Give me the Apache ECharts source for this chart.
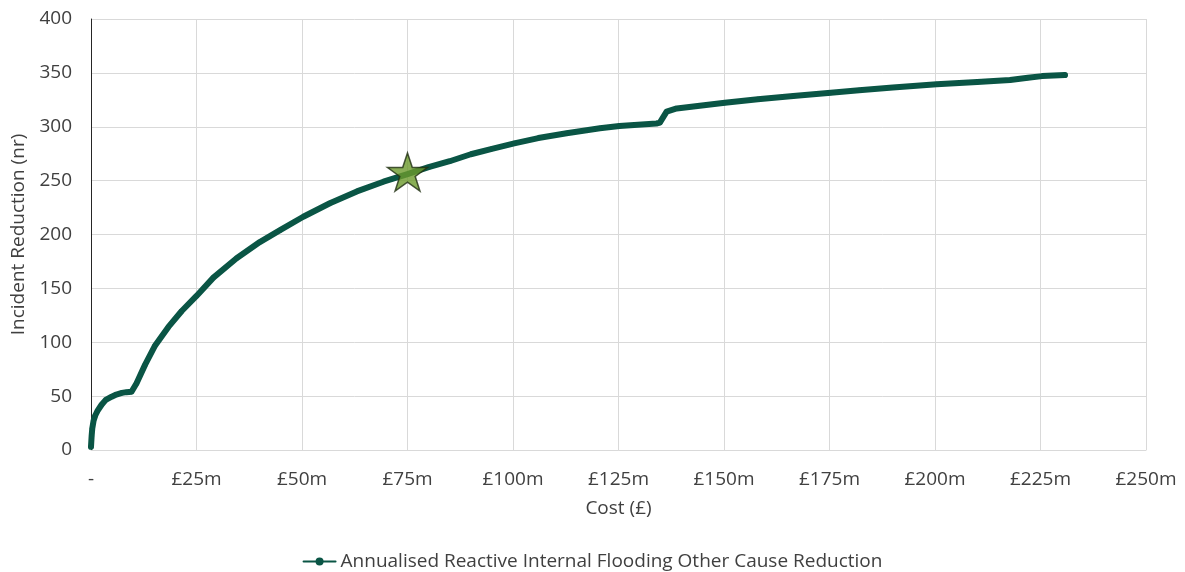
<!DOCTYPE html>
<html>
<head>
<meta charset="utf-8">
<script src="https://cdn.jsdelivr.net/npm/echarts@6/dist/echarts.min.js"></script>
<style>
  html, body { margin: 0; padding: 0; background: #fff; }
  #chart { width: 1185px; height: 572px; }
</style>
</head>
<body>
<div id="chart"></div>
<script>
// Cumulative cost (£m) and annual incident reduction (nr)
const costM = [0, 0.15, 0.3, 0.6, 1, 1.5, 2.5, 3.5, 4.9, 6, 7.3, 8.4, 9.6, 10.8, 12.8, 15.2, 18.3, 21.5,
  25, 29, 34.5, 40, 44.8, 50.3, 56.6, 63, 69.3, 75, 80, 85, 90, 95, 100.3, 106, 112.7, 120.6, 125.2,
  134, 134.8, 136.4, 138.8, 150.2, 158, 166.4, 175.3, 182, 190, 200.4, 210, 217.8, 222, 225.4, 230.8];
const reduction = [3, 13, 20, 27, 32, 36, 42, 46.5, 49.5, 51.5, 53, 53.7, 54, 62, 79, 97, 114, 129,
  143, 160, 178, 193, 204, 216.5, 229, 240, 249, 256, 262.5, 268, 274.5, 279.5, 284.6, 289.5, 294,
  298.6, 300.7, 303, 303.8, 314, 317, 322.3, 325.5, 328.5, 331.5, 333.8, 336.5, 339.4, 341.5, 343.4,
  345.5, 347, 348];

// Highlighted option
const selectedCost = [75];
const selectedReduction = [258];

const xTicks = [0, 25, 50, 75, 100, 125, 150, 175, 200, 225, 250];
const yTicks = [0, 50, 100, 150, 200, 250, 300, 350, 400];

const seriesName = 'Annualised Reactive Internal Flooding Other Cause Reduction';
const lineColor = '#0a5545';
const font = '"Open Sans", "Liberation Sans", sans-serif';
const textColor = '#404040';
const fs = 19;

const chart = echarts.init(document.getElementById('chart'));
chart.setOption({
  animation: false,
  textStyle: { fontFamily: font },
  grid: { left: 91, right: 39, top: 19, bottom: 122 },
  legend: {
    left: 'center',
    top: 547,
    data: [seriesName],
    itemWidth: 32,
    itemHeight: 10,
    itemGap: 4,
    textStyle: { fontSize: fs, color: textColor, fontFamily: font }
  },
  xAxis: {
    type: 'value',
    min: xTicks[0],
    max: xTicks[xTicks.length - 1],
    interval: 25,
    name: 'Cost (£)',
    nameLocation: 'middle',
    nameGap: 49,
    nameTextStyle: { fontSize: fs, color: textColor },
    axisLine: { show: true, lineStyle: { color: '#d9d9d9', width: 1 } },
    axisTick: { show: false },
    axisLabel: {
      fontSize: fs, color: textColor, margin: 20,
      formatter: v => v === 0 ? '-' : '£' + v + 'm'
    },
    splitLine: { show: true, lineStyle: { color: '#d9d9d9', width: 1 } }
  },
  yAxis: {
    type: 'value',
    min: yTicks[0],
    max: yTicks[yTicks.length - 1],
    interval: 50,
    name: 'Incident Reduction (nr)',
    nameLocation: 'middle',
    nameGap: 60,
    nameTextStyle: { fontSize: fs, color: textColor },
    axisLine: { show: true, lineStyle: { color: '#262626', width: 1 } },
    axisTick: { show: false },
    axisLabel: { fontSize: fs, color: textColor, margin: 19 },
    splitLine: { show: true, lineStyle: { color: '#d9d9d9', width: 1 } }
  },
  series: [
    {
      name: seriesName,
      type: 'line',
      data: costM.map((c, i) => [c, reduction[i]]),
      smooth: false,
      symbol: 'circle',
      symbolSize: 5,
      showSymbol: true,
      itemStyle: { color: lineColor },
      lineStyle: { color: lineColor, width: 6, cap: 'round', join: 'round' },
      z: 2
    },
    {
      name: 'Selected',
      type: 'scatter',
      data: selectedCost.map((c, i) => [c, selectedReduction[i]]),
      symbol: 'path://M50,0 L61.8,35.5 L99,35.5 L68.9,57.4 L80.4,92.8 L50,71 L19.6,92.8 L31.1,57.4 L1,35.5 L38.2,35.5 Z',
      symbolSize: [40, 38],
      itemStyle: { color: '#6b9a2c', borderColor: '#1f2e12', borderWidth: 1.5 },
      z: 5
    }
  ]
});
</script>
</body>
</html>
